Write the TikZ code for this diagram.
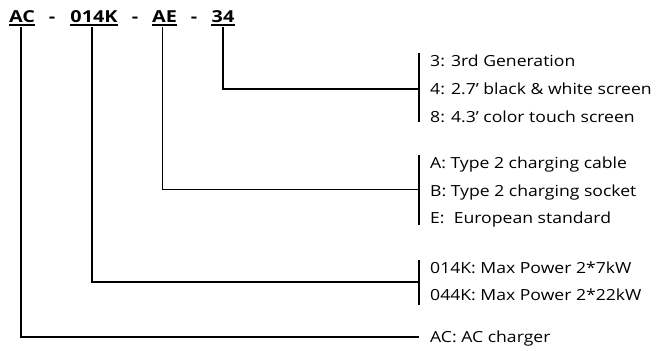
\documentclass[tikz,border=0pt]{standalone}
\usepackage{fontspec}
\setmainfont{Open Sans}[FakeStretch=1.15]
\newfontfamily\titlefont{Open Sans}[FakeStretch=1.2]
\begin{document}
\begin{tikzpicture}[x=1pt,y=-1pt,
  ttl/.style={font=\titlefont\fontsize{16.5}{18}\selectfont\bfseries, inner sep=0pt, anchor=base},
  lbl/.style={font=\fontsize{15.3}{17}\selectfont, inner sep=0pt, anchor=base west},
  conn/.style={line width=1.4pt, black},
  brk/.style={line width=1.1pt, black},
  ul/.style={line width=1.5pt, black}]
\useasboundingbox (0,0) rectangle (657,351);
% title
\node[ttl] (ac) at (22,22.5) {AC};
\node[ttl] (d1) at (52,22.5) {-};
\node[ttl] (k) at (94,22.5) {014K};
\node[ttl] (d2) at (135,22.5) {-};
\node[ttl] (ae) at (164.5,22.5) {AE};
\node[ttl] (d3) at (194,22.5) {-};
\node[ttl] (n) at (223,22.5) {34};
\foreach \t in {ac,k,ae,n}{
  \draw[ul] ([yshift=-2.5pt]\t.base west) -- ([yshift=-2.5pt]\t.base east);
}
% labels
\node[lbl] (g3a) at (430,66.5) {3: 3rd Generation};
\node[lbl] (g3b) at (430,94.5) {4: 2.7’ black \& white screen};
\node[lbl] (g3c) at (430,122.5) {8: 4.3’ color touch screen};
\node[lbl] (ga) at (430,168.5) {A: Type 2 charging cable};
\node[lbl] (gb) at (430,196.5) {B: Type 2 charging socket};
\node[lbl] (ge) at (430,223.5) {E:\ \ European standard};
\node[lbl] (gk1) at (430,273.5) {014K: Max Power 2*7kW};
\node[lbl] (gk2) at (430,300.5) {044K: Max Power 2*22kW};
\node[lbl] (acl) at (430,342.5) {AC: AC charger};
% brackets
\coordinate (b3t) at (419,53);  \coordinate (b3b) at (419,122); \coordinate (b3m) at (419,89);
\coordinate (bat) at (419,155); \coordinate (bab) at (419,225); \coordinate (bam) at (419,189.5);
\coordinate (bkt) at (419,260); \coordinate (bkb) at (419,305); \coordinate (bkm) at (419,282);
\coordinate (bac) at (419,337);
\draw[brk] (b3t) -- (b3b);
\draw[brk] (bat) -- (bab);
\draw[brk] (bkt) -- (bkb);
% connectors
\draw[conn] ([yshift=-4.5pt]n.base) |- (b3m);
\draw[conn] ([xshift=-2pt,yshift=-4.5pt]ae.base) |- (bam);
\draw[conn] ([xshift=-2pt,yshift=-4.5pt]k.base) |- (bkm);
\draw[conn] ([xshift=-1pt,yshift=-4.5pt]ac.base) |- (bac);
\end{tikzpicture}
\end{document}
